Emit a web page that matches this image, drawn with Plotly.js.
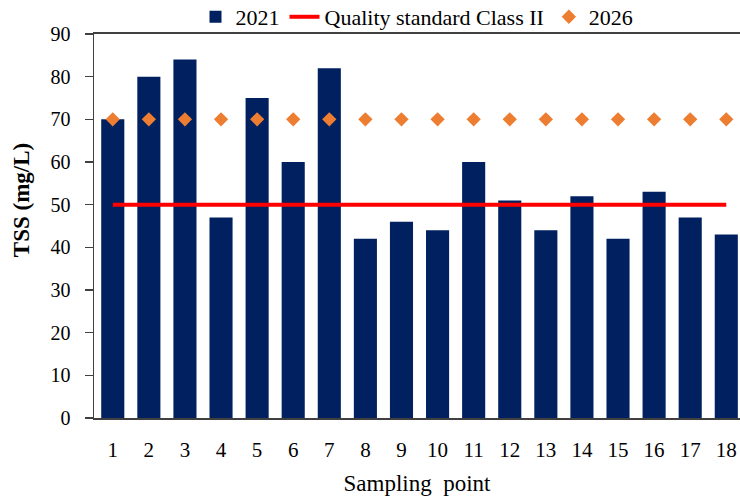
<!DOCTYPE html>
<html>
<head>
<meta charset="utf-8">
<script src="https://cdn.plot.ly/plotly-3.0.1.min.js"></script>
<style>html,body{margin:0;padding:0;background:#fff;}#chart{width:740px;height:499px;}</style>
</head>
<body>
<div id="chart"></div>
<script>
const samplingPoints = [1,2,3,4,5,6,7,8,9,10,11,12,13,14,15,16,17,18];
const tss2021 = [70,80,84,47,75,60,82,42,46,44,60,51,44,52,42,53,47,43];
const qualityStandardClassII = [50,50,50,50,50,50,50,50,50,50,50,50,50,50,50,50,50,50];
const tss2026 = [70,70,70,70,70,70,70,70,70,70,70,70,70,70,70,70,70,70];
const yTicks = [0,10,20,30,40,50,60,70,80,90];

const serif = "'Liberation Serif', 'Times New Roman', serif";

const traces = [
  {type:'bar', name:'2021', x:samplingPoints, y:tss2021, width:0.64,
   marker:{color:'#002060', line:{width:0}}},
  {type:'scatter', mode:'lines', name:'Quality standard Class II', x:samplingPoints, y:qualityStandardClassII,
   line:{color:'#FF0000', width:4}},
  {type:'scatter', mode:'markers', name:'2026', x:samplingPoints, y:tss2026,
   marker:{symbol:'diamond', color:'#ED7D31', size:11}}
];

const layout = {
  width:740, height:499,
  margin:{l:94, r:0, t:34, b:81, autoexpand:false},
  paper_bgcolor:'#fff', plot_bgcolor:'#fff',
  font:{family:serif, color:'#000', size:20},
  showlegend:true,
  legend:{orientation:'h', x:0.5, xanchor:'center', yref:'container', y:0.966, yanchor:'middle',
          font:{family:serif, size:22, color:'#000'}, itemwidth:30, tracegroupgap:0, bgcolor:'rgba(0,0,0,0)'},
  xaxis:{range:[0.48,18.38], tickvals:samplingPoints, ticktext:samplingPoints.map(String),
         showgrid:false, zeroline:false, showline:true, linecolor:'#404040', linewidth:2, mirror:true,
         ticks:'', ticklabelstandoff:12, tickfont:{family:serif, size:21, color:'#000'},
         title:{text:'Sampling\u00a0 point', font:{family:serif, size:23, color:'#000'}, standoff:14}},
  yaxis:{range:[0,90], tickvals:yTicks, showgrid:false, zeroline:false, showline:true,
         linecolor:'#404040', linewidth:1.5, ticks:'outside', ticklen:8, tickwidth:1.5, tickcolor:'#404040',
         ticklabelstandoff:10, tickfont:{family:serif, size:20, color:'#000'}},
  annotations:[{text:'<b>TSS (mg/L)</b>', xref:'paper', yref:'paper', x:-0.111, y:0.568,
                xanchor:'center', yanchor:'middle', textangle:-90, showarrow:false,
                font:{family:serif, size:23, color:'#000'}}]
};

Plotly.newPlot('chart', traces, layout, {displayModeBar:false, staticPlot:true});
</script>
</body>
</html>
